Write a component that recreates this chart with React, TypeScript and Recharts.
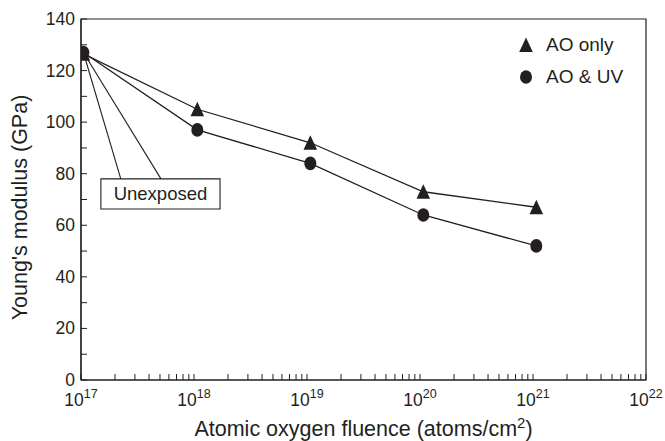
import React from 'react';
import { ComposedChart, Line, XAxis, YAxis, ReferenceArea, ReferenceLine, Legend } from 'recharts';

const INK = '#231f20';
const FONT = '"Liberation Sans", Arial, Helvetica, sans-serif';

// ---- data ----
const fluence = [1.05e17, 1.07e18, 1.07e19, 1.07e20, 1.07e21];
const aoOnly = [126.5, 105, 92, 73, 67];
const aoUv = [127, 97, 84, 64, 52];
const seriesNames = ['AO only', 'AO & UV'];
const decadeExponents = [17, 18, 19, 20, 21];
const lastExponent = 22;
const minorMultipliers = [1, 2, 3, 4, 5, 6, 7, 8, 9];
const yTicks = [0, 10, 20, 30, 40, 50, 60, 70, 80, 90, 100, 110, 120, 130, 140];
const yLabelStep = 20;
const xTitle = 'Atomic oxygen fluence (atoms/cm';
const yTitle = "Young's modulus (GPa)";
const annotationText = 'Unexposed';
const unexposedBox = { x1: 1.5e17, x2: 1.7e18, y1: 66.3, y2: 78 };
const leaderStart = { x: 1.05e17, y: 127 };
const leaderEnds = [
  { x: 2.25e17, y: 78 },
  { x: 5.1e17, y: 78 },
];

const xTicks = [
  ...decadeExponents.flatMap((e) => minorMultipliers.map((m) => m * Math.pow(10, e))),
  Math.pow(10, lastExponent),
];

const data = fluence.map((f, i) => ({ f, ao: aoOnly[i], uv: aoUv[i] }));

const XTick = (props: any) => {
  const { x, y, payload } = props;
  const v = payload.value;
  const exp = Math.round(Math.log10(v));
  const major = Math.abs(v / Math.pow(10, exp) - 1) < 1e-9;
  return (
    <g>
      <line x1={x} x2={x} y1={y} y2={y - 6} stroke={INK} strokeWidth={1} />
      {major && (
        <text x={x} y={y + 26} textAnchor="middle" fill={INK} fontSize={17.5} fontFamily={FONT}>
          <tspan>10</tspan>
          <tspan dy={-8} fontSize={12.5}>{exp}</tspan>
        </text>
      )}
    </g>
  );
};

const YTick = (props: any) => {
  const { x, y, payload } = props;
  const v = payload.value;
  return (
    <g>
      <line x1={x} x2={x + 6} y1={y} y2={y} stroke={INK} strokeWidth={1} />
      {v % yLabelStep === 0 && (
        <text x={x - 6} y={y + 6} textAnchor="end" fill={INK} fontSize={17.5} fontFamily={FONT}>
          {v}
        </text>
      )}
    </g>
  );
};

const XTitle = (props: any) => {
  const vb = props.viewBox || {};
  const cx = vb.x + vb.width / 2;
  return (
    <text x={cx} y={vb.y + 56} textAnchor="middle" fill={INK} fontSize={21.5} fontFamily={FONT}>
      <tspan>{xTitle}</tspan>
      <tspan dy={-8} fontSize={15}>2</tspan>
      <tspan dy={8}>)</tspan>
    </text>
  );
};

const YTitle = (props: any) => {
  const vb = props.viewBox || {};
  const cy = vb.y + vb.height / 2 + 8;
  const x = 27;
  return (
    <text
      x={x}
      y={cy}
      transform={`rotate(-90, ${x}, ${cy})`}
      textAnchor="middle"
      fill={INK}
      fontSize={21.5}
      fontFamily={FONT}
    >
      {yTitle}
    </text>
  );
};

const TriangleDot = (props: any) => {
  const { cx, cy } = props;
  if (cx == null || cy == null) return null;
  return (
    <polygon
      points={`${cx},${cy - 7.5} ${cx - 6.8},${cy + 7} ${cx + 6.8},${cy + 7}`}
      fill={INK}
    />
  );
};

const CircleDot = (props: any) => {
  const { cx, cy } = props;
  if (cx == null || cy == null) return null;
  return <ellipse cx={cx} cy={cy} rx={6} ry={6.8} fill={INK} />;
};

const UnexposedLabel = (props: any) => {
  const vb = props.viewBox || {};
  return (
    <text
      x={vb.x + vb.width / 2}
      y={vb.y + vb.height / 2 + 6.5}
      textAnchor="middle"
      fill={INK}
      fontSize={18.5}
      fontFamily={FONT}
    >
      {annotationText}
    </text>
  );
};

const LegendContent = () => (
  <div style={{ fontFamily: FONT, fontSize: 19, color: INK }}>
    <div style={{ display: 'flex', alignItems: 'center', height: 32 }}>
      <svg width={16} height={16} style={{ display: 'block' }}>
        <polygon points="8,0.5 1.2,15 14.8,15" fill={INK} />
      </svg>
      <span style={{ marginLeft: 12 }}>{seriesNames[0]}</span>
    </div>
    <div style={{ display: 'flex', alignItems: 'center', height: 32 }}>
      <svg width={16} height={16} style={{ display: 'block' }}>
        <ellipse cx={8} cy={8} rx={6} ry={6.8} fill={INK} />
      </svg>
      <span style={{ marginLeft: 12 }}>{seriesNames[1]}</span>
    </div>
  </div>
);

export default function App() {
  return (
    <div style={{ position: 'absolute', left: 0, top: 0, width: 665, height: 441, background: '#fff' }}>
      <ComposedChart
        width={665}
        height={441}
        data={data}
        margin={{ top: 19, right: 19, bottom: 0, left: 0 }}
        style={{ fontFamily: FONT }}
      >
        <XAxis
          dataKey="f"
          type="number"
          scale="log"
          domain={[1e17, 1e22]}
          ticks={xTicks}
          interval={0}
          allowDataOverflow
          height={61}
          tickSize={0}
          tickMargin={0}
          tickLine={false}
          axisLine={{ stroke: INK, strokeWidth: 1.2 }}
          tick={<XTick />}
          label={<XTitle />}
        />
        <YAxis
          type="number"
          domain={[0, 140]}
          ticks={yTicks}
          interval={0}
          width={81}
          tickSize={0}
          tickMargin={0}
          tickLine={false}
          axisLine={{ stroke: INK, strokeWidth: 1.2 }}
          tick={<YTick />}
          label={<YTitle />}
        />
        <ReferenceArea
          x1={1e17}
          x2={1e22}
          y1={0}
          y2={140}
          fill="none"
          fillOpacity={0}
          stroke={INK}
          strokeWidth={1.2}
          ifOverflow="visible"
        />
        {leaderEnds.map((end, i) => (
          <ReferenceLine
            key={i}
            segment={[leaderStart, end]}
            stroke={INK}
            strokeWidth={1.1}
            ifOverflow="visible"
          />
        ))}
        <ReferenceArea
          x1={unexposedBox.x1}
          x2={unexposedBox.x2}
          y1={unexposedBox.y1}
          y2={unexposedBox.y2}
          fill="#fff"
          fillOpacity={1}
          stroke={INK}
          strokeWidth={1.1}
          ifOverflow="visible"
          label={<UnexposedLabel />}
        />
        <Line
          dataKey="ao"
          name={seriesNames[0]}
          stroke={INK}
          strokeWidth={1.3}
          dot={<TriangleDot />}
          activeDot={false}
          isAnimationActive={false}
        />
        <Line
          dataKey="uv"
          name={seriesNames[1]}
          stroke={INK}
          strokeWidth={1.3}
          dot={<CircleDot />}
          activeDot={false}
          isAnimationActive={false}
        />
        <Legend
          layout="vertical"
          align="center"
          verticalAlign="middle"
          content={<LegendContent />}
          wrapperStyle={{ position: 'absolute', left: 518, top: 29, width: 130, height: 64 }}
        />
      </ComposedChart>
    </div>
  );
}
